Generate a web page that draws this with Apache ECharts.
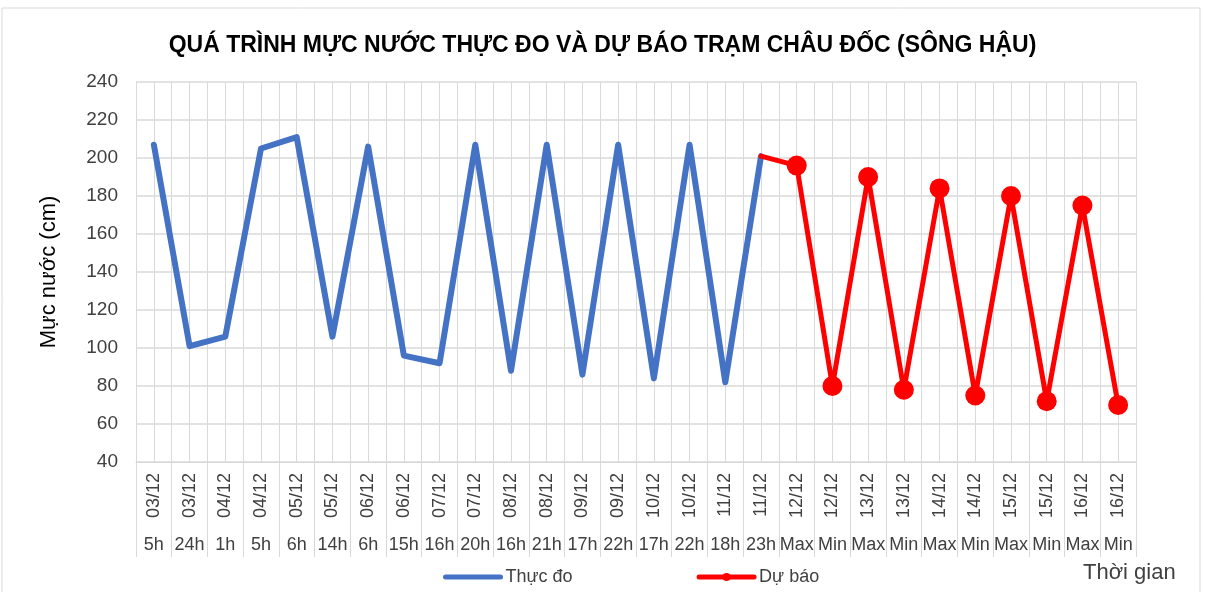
<!DOCTYPE html>
<html>
<head>
<meta charset="utf-8">
<script src="https://cdn.jsdelivr.net/npm/echarts@6/dist/echarts.min.js"></script>
<style>
    html, body { margin: 0; padding: 0; background: #fff; }
    #myChartArea { width: 1205px; height: 592px; }
</style>
</head>
<body>
<div id="myChartArea"></div>
<script>
// ngày và giờ của từng mốc
var dates = ['03/12', '03/12', '04/12', '04/12', '05/12', '05/12', '06/12', '06/12', '07/12', '07/12',
    '08/12', '08/12', '09/12', '09/12', '10/12', '10/12', '11/12', '11/12',
    '12/12', '12/12', '13/12', '13/12', '14/12', '14/12', '15/12', '15/12', '16/12', '16/12'];
var hours = ['5h', '24h', '1h', '5h', '6h', '14h', '6h', '15h', '16h', '20h',
    '16h', '21h', '17h', '22h', '17h', '22h', '18h', '23h',
    'Max', 'Min', 'Max', 'Min', 'Max', 'Min', 'Max', 'Min', 'Max', 'Min'];
// mực nước thực đo (cm)
var measured = [207, 101, 106, 205, 211, 106, 206, 96, 92, 207, 88, 207, 86, 207, 84, 207, 82, 201];
// mực nước dự báo (cm), điểm đầu nối từ số đo cuối
var forecast = [201, 196, 80, 190, 78, 184, 75, 180, 72, 175, 70];
var yTicks = [40, 240, 20]; // min, max, interval

var measuredData = dates.map(function (d, i) {
    return i < measured.length ? measured[i] : null;
});
var startIdx = measured.length - 1;
var forecastData = dates.map(function (d, i) {
    if (i < startIdx) return null;
    var v = forecast[i - startIdx];
    if (i === startIdx) return {value: v, symbol: 'none'};
    return v;
});

var labelColor = '#404040';
var gridColor = '#d9d9d9';
var font = 'Liberation Sans';

var myChart = echarts.init(document.getElementById('myChartArea'));

var option = {
    backgroundColor: '#fff',
    textStyle: {fontFamily: font},
    title: {
        text: 'QUÁ TRÌNH MỰC NƯỚC THỰC ĐO VÀ DỰ BÁO TRẠM CHÂU ĐỐC (SÔNG HẬU)',
        left: 'center',
        top: 29,
        textStyle: {fontFamily: font, fontSize: 23, fontWeight: 'bold', color: '#000'}
    },
    legend: {
        left: 438,
        top: 563,
        itemWidth: 55,
        itemHeight: 10,
        itemGap: 124,
        lineStyle: {width: 5},
        textStyle: {fontFamily: font, fontSize: 18, color: labelColor},
        data: [
            {name: 'Thực đo', itemStyle: {opacity: 0}},
            {name: 'Dự báo'}
        ]
    },
    graphic: [
        {
            type: 'rect',
            shape: {x: 2, y: 8, width: 1198, height: 620},
            style: {fill: 'none', stroke: '#d9d9d9', lineWidth: 1}
        },
        {
            type: 'text',
            left: 1083,
            top: 562,
            style: {text: 'Thời gian', fontFamily: font, fontSize: 22, fill: labelColor}
        }
    ],
    grid: {left: 136, right: 69, top: 82, bottom: 130},
    xAxis: [
        {
            type: 'category',
            data: dates,
            boundaryGap: true,
            axisLine: {lineStyle: {color: gridColor}},
            axisTick: {show: true, interval: 0, length: 95, lineStyle: {color: gridColor}},
            axisLabel: {
                interval: 0, rotate: 90, margin: 11,
                fontFamily: font, fontSize: 18, color: labelColor
            },
            splitLine: {show: false}
        },
        {
            type: 'category',
            data: hours,
            position: 'bottom',
            offset: 74,
            boundaryGap: true,
            axisLine: {show: false},
            axisTick: {show: false},
            axisLabel: {interval: 0, margin: 0, fontFamily: font, fontSize: 18, color: labelColor}
        },
        {
            // lưới dọc mỗi nửa mốc
            type: 'value',
            min: 0,
            max: dates.length * 2,
            interval: 1,
            axisLine: {show: false},
            axisTick: {show: false},
            axisLabel: {show: false},
            splitLine: {show: true, lineStyle: {color: gridColor, width: 1}}
        }
    ],
    yAxis: {
        type: 'value',
        min: yTicks[0],
        max: yTicks[1],
        interval: yTicks[2],
        name: 'Mực nước (cm)',
        nameLocation: 'middle',
        nameGap: 76,
        nameTextStyle: {fontFamily: font, fontSize: 22, color: '#000'},
        axisLine: {show: true, lineStyle: {color: gridColor}},
        axisTick: {show: false},
        axisLabel: {margin: 18, fontFamily: font, fontSize: 19, color: labelColor},
        splitLine: {lineStyle: {color: gridColor, width: 1.5}}
    },
    series: [
        {
            name: 'Thực đo',
            type: 'line',
            xAxisIndex: 0,
            data: measuredData,
            symbol: 'none',
            lineStyle: {color: '#4472C4', width: 6, cap: 'round', join: 'round'},
            itemStyle: {color: '#4472C4'},
            z: 3
        },
        {
            name: 'Dự báo',
            type: 'line',
            xAxisIndex: 0,
            data: forecastData,
            symbol: 'circle',
            symbolSize: 20,
            lineStyle: {color: '#FF0000', width: 5, cap: 'round', join: 'round'},
            itemStyle: {color: '#FF0000'},
            z: 4
        }
    ]
};

myChart.setOption(option);
</script>
</body>
</html>
